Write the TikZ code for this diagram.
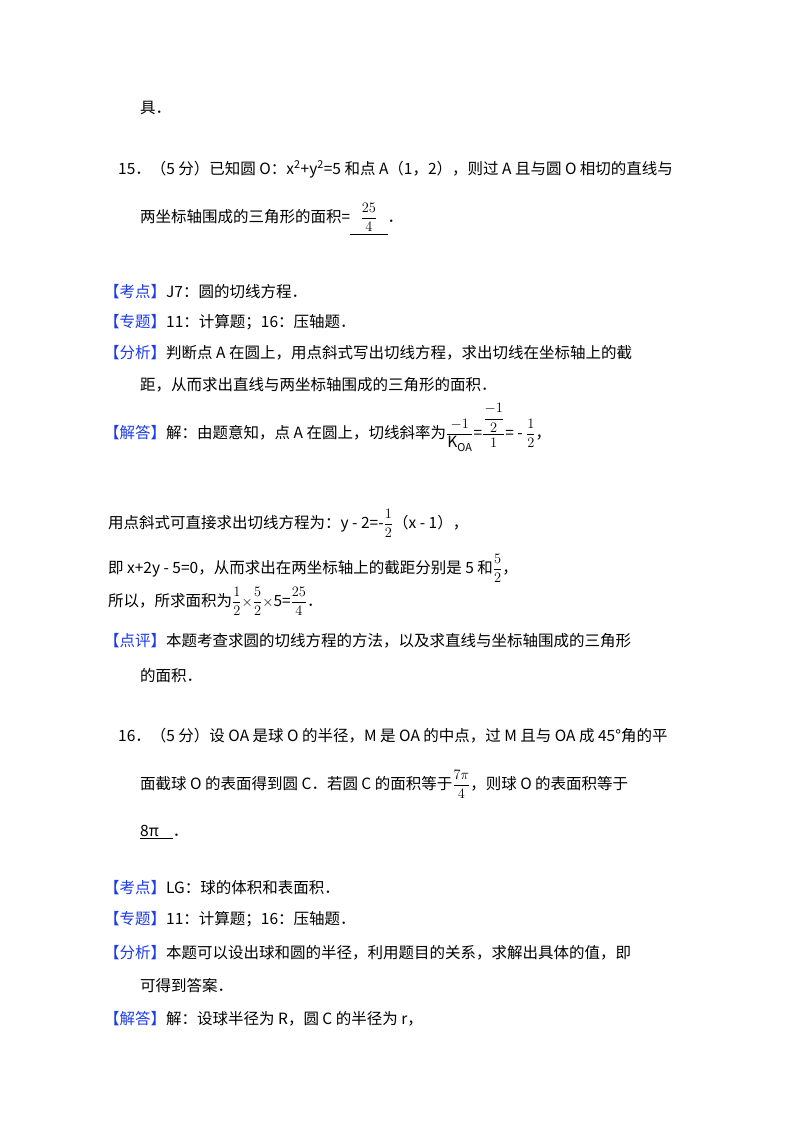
\documentclass[tikz,border=0pt]{standalone}
\usepackage{amsmath}
\usepackage{fontspec}
\setmainfont{Noto Sans CJK SC}
\usepackage{xcolor}
\definecolor{kb}{RGB}{30,60,230}
\newcommand{\tg}[1]{\textcolor{kb}{【#1】}}
\newcommand{\fr}[2]{$\dfrac{#1}{#2}$}
\begin{document}
\begin{tikzpicture}[x=1pt,y=-1pt,
  ln/.style={anchor=base west,inner sep=0pt,font=\fontsize{15.5}{18}\selectfont}]
\useasboundingbox (0,0) rectangle (800,1132);
\fill[white] (0,0) rectangle (800,1132);
\node[ln] (l1) at (140,113) {具．};
\node[ln] (l2) at (118,174) {15．（5 分）已知圆 O：x\textsuperscript{2}+y\textsuperscript{2}=5 和点 A（1，2），则过 A 且与圆 O 相切的直线与};
\node[ln] (l3) at (140,222) {两坐标轴围成的三角形的面积=\underline{\ \ \ \fr{25}{4}\ \ \ }．};
\node[ln] (l4) at (104,297) {\tg{考点}J7：圆的切线方程．};
\node[ln] (l5) at (104,327) {\tg{专题}11：计算题；16：压轴题．};
\node[ln] (l6) at (104,358) {\tg{分析}判断点 A 在圆上，用点斜式写出切线方程，求出切线在坐标轴上的截};
\node[ln] (l7) at (140,390) {距，从而求出直线与两坐标轴围成的三角形的面积．};
\node[ln] (l8) at (104,438) {\tg{解答}解：由题意知，点 A 在圆上，切线斜率为$\dfrac{-1}{\mathrm{K}_{\mathrm{OA}}}$=$\dfrac{\dfrac{-1}{2}}{1}$= - \fr{1}{2}，};
\node[ln] (l9) at (108,528) {用点斜式可直接求出切线方程为：y - 2=-\fr{1}{2}（x - 1），};
\node[ln] (l10) at (108,573) {即 x+2y - 5=0，从而求出在两坐标轴上的截距分别是 5 和\fr{5}{2}，};
\node[ln] (l11) at (108,606) {所以，所求面积为\fr{1}{2}$\times$\fr{5}{2}$\times$5=\fr{25}{4}．};
\node[ln] (l12) at (104,646) {\tg{点评}本题考查求圆的切线方程的方法，以及求直线与坐标轴围成的三角形};
\node[ln] (l13) at (140,681) {的面积．};
\node[ln] (l14) at (118,741) {16．（5 分）设 OA 是球 O 的半径，M 是 OA 的中点，过 M 且与 OA 成 45°角的平};
\node[ln] (l15) at (140,789) {面截球 O 的表面得到圆 C．若圆 C 的面积等于$\dfrac{7\pi}{4}$，则球 O 的表面积等于};
\node[ln] (l16) at (140,836) {\underline{8π\ \ \ \ }．};
\node[ln] (l17) at (104,893) {\tg{考点}LG：球的体积和表面积．};
\node[ln] (l18) at (104,924) {\tg{专题}11：计算题；16：压轴题．};
\node[ln] (l19) at (104,958) {\tg{分析}本题可以设出球和圆的半径，利用题目的关系，求解出具体的值，即};
\node[ln] (l20) at (140,991) {可得到答案．};
\node[ln] (l21) at (104,1024) {\tg{解答}解：设球半径为 R，圆 C 的半径为 r，};
\end{tikzpicture}
\end{document}
